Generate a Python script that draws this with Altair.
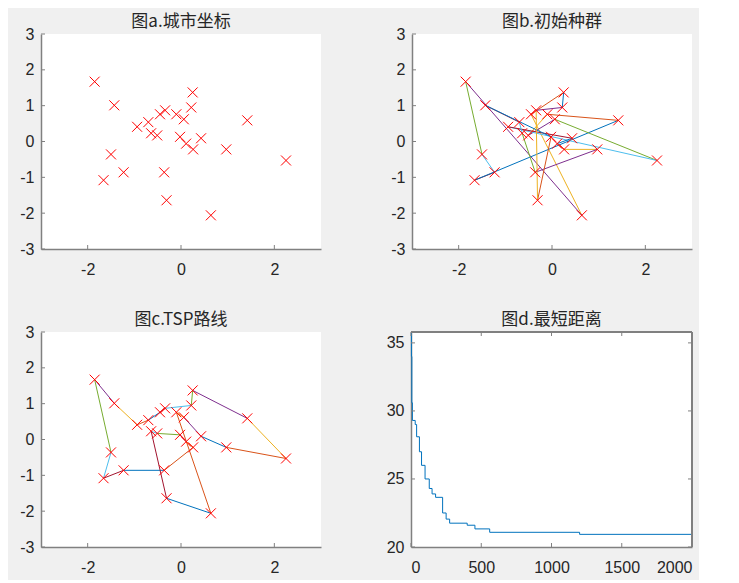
import altair as alt
import pandas as pd

# ---- data ----
city_x = [-1.85, -1.43, 0.25, 0.22, -0.34, -0.45, -0.10, 0.06, 1.42, -0.70,
          -0.94, -0.64, -0.51, -0.02, 0.43, 0.11, 0.26, 0.97, 2.25, -1.50,
          -1.23, -0.36, -1.66, -0.31, 0.64]
city_y = [1.67, 1.01, 1.37, 0.95, 0.87, 0.76, 0.76, 0.62, 0.59, 0.54,
          0.41, 0.23, 0.17, 0.13, 0.09, -0.06, -0.22, -0.22, -0.53, -0.36,
          -0.86, -0.86, -1.08, -1.64, -2.06]
init_route = [4, 3, 6, 25, 1, 20, 21, 23, 9, 7, 13, 8, 19, 11, 15, 16, 17, 18,
              22, 12, 10, 2, 14, 24, 5]
best_route = [15, 18, 19, 9, 3, 4, 5, 6, 10, 11, 2, 1, 20, 23, 21, 22, 17, 16,
              14, 13, 12, 24, 25, 7, 8]
iter_steps = [0, 3, 6, 10, 30, 40, 60, 75, 100, 130, 150, 175, 225, 250, 275,
              400, 455, 560, 1200, 2000]
best_dist = [35.8, 34.0, 30.6, 29.3, 29.0, 28.1, 27.0, 26.0, 25.0, 24.3, 23.9,
             23.65, 22.5, 22.05, 21.75, 21.6, 21.33, 21.08, 20.93, 20.93]
titles = ["图a.城市坐标", "图b.初始种群", "图c.TSP路线", "图d.最短距离"]
xy_xticks = [-2, 0, 2]
xy_yticks = [-3, -2, -1, 0, 1, 2, 3]
d_xticks = [0, 500, 1000, 1500, 2000]
d_yticks = [20, 25, 30, 35]
seg_colors = ["#0072BD", "#D95319", "#EDB120", "#7E2F8E", "#77AC30", "#4DBEEE", "#A2142F"]

AXC = "#808080"
TXT = "#262626"
W, H = 280, 215

cities = pd.DataFrame({"x": city_x, "y": city_y})


def seg_df(route):
    rows = []
    n = len(route)
    for i in range(n):
        a = route[i] - 1
        b = route[(i + 1) % n] - 1
        for k, c in enumerate((a, b)):
            rows.append(dict(seg=i, k=k, col=i % 7, x=city_x[c], y=city_y[c]))
    return pd.DataFrame(rows)


def title_layer(t, w):
    return alt.Chart(pd.DataFrame({"t": [t]})).mark_text(
        font="Noto Sans CJK SC", fontSize=17, color=TXT, baseline="middle",
        align="center").encode(text="t:N", x=alt.value(w / 2), y=alt.value(-12))


def xax(vals):
    return alt.Axis(values=vals, title=None, grid=False, ticks=False, labelPadding=12,
                    minExtent=26, maxExtent=26, domainColor=AXC, domainWidth=1.5,
                    labelColor=TXT, labelFont="Liberation Sans", labelFontSize=16,
                    labelExpr="'' + datum.value")


def yax(vals):
    return alt.Axis(values=vals, title=None, grid=False, ticks=False, labelPadding=7,
                    minExtent=33, maxExtent=33, domainColor=AXC, domainWidth=1.5,
                    labelColor=TXT, labelFont="Liberation Sans", labelFontSize=16,
                    labelExpr="'' + datum.value")


def tick_layers(xvals, yvals, xs, ys, w, box=False):
    dx = pd.DataFrame({"x": xvals})
    dy = pd.DataFrame({"y": yvals})
    X = alt.X("x:Q", scale=xs, axis=xax(xvals))
    Y = alt.Y("y:Q", scale=ys, axis=yax(yvals))
    layers = [
        alt.Chart(dx).mark_rule(color=AXC, strokeWidth=1).encode(
            x=X, y=alt.value(H), y2=alt.value(H - 4)),
        alt.Chart(dy).mark_rule(color=AXC, strokeWidth=1).encode(
            y=Y, x=alt.value(0), x2=alt.value(4)),
    ]
    if box:
        layers += [
            alt.Chart(dx).mark_rule(color=AXC, strokeWidth=1).encode(
                x=X, y=alt.value(0), y2=alt.value(4)),
            alt.Chart(dy).mark_rule(color=AXC, strokeWidth=1).encode(
                y=Y, x=alt.value(w), x2=alt.value(w - 4)),
            alt.Chart(dx).mark_rule(color=AXC, strokeWidth=1.5).encode(
                x=alt.value(0), x2=alt.value(w), y=alt.value(0)),
            alt.Chart(dx).mark_rule(color=AXC, strokeWidth=1.5).encode(
                x=alt.value(w), y=alt.value(0), y2=alt.value(H)),
        ]
    return layers


xs = alt.Scale(domain=[-3, 3], nice=False, zero=False)
ys = alt.Scale(domain=[-3, 3], nice=False, zero=False)


def points():
    return alt.Chart(cities).mark_point(
        shape="M-1,-1L1,1M-1,1L1,-1", filled=False, color="#FF0000", size=100,
        strokeWidth=1, opacity=1).encode(
        x=alt.X("x:Q", scale=xs, axis=xax(xy_xticks)),
        y=alt.Y("y:Q", scale=ys, axis=yax(xy_yticks)))


def route_lines(route):
    return alt.Chart(seg_df(route)).mark_line(strokeWidth=1).encode(
        x=alt.X("x:Q", scale=xs, axis=xax(xy_xticks)),
        y=alt.Y("y:Q", scale=ys, axis=yax(xy_yticks)),
        detail="seg:N",
        order="k:Q",
        color=alt.Color("col:N", scale=alt.Scale(domain=list(range(7)), range=seg_colors),
                        legend=None))


pa = alt.layer(points(), *tick_layers(xy_xticks, xy_yticks, xs, ys, W),
               title_layer(titles[0], W)).properties(width=W, height=H)
pb = alt.layer(route_lines(init_route), points(), *tick_layers(xy_xticks, xy_yticks, xs, ys, W),
               title_layer(titles[1], W)).properties(width=W, height=H)
pc = alt.layer(route_lines(best_route), points(), *tick_layers(xy_xticks, xy_yticks, xs, ys, W),
               title_layer(titles[2], W)).properties(width=W, height=H)

WD = W + 1
dxs = alt.Scale(domain=[0, 2000], nice=False, zero=False)
dys = alt.Scale(domain=[20, 35.8], nice=False, zero=False)
conv = pd.DataFrame({"x": iter_steps, "y": best_dist})
dline = alt.Chart(conv).mark_line(interpolate="step-after", color="#0072BD", strokeWidth=1).encode(
    x=alt.X("x:Q", scale=dxs, axis=xax(d_xticks)),
    y=alt.Y("y:Q", scale=dys, axis=yax(d_yticks)))
pd_ = alt.layer(dline, *tick_layers(d_xticks, d_yticks, dxs, dys, WD, box=True),
                title_layer(titles[3], WD)).properties(width=WD, height=H)

row1 = alt.hconcat(pa, pb, spacing=58)
row2 = alt.hconcat(pc, pd_, spacing=57)
chart = alt.vconcat(row1, row2, spacing=34).properties(
    background="#f0f0f0", padding={"left": 0, "top": 5, "right": 5, "bottom": 5}
).configure_view(fill="white", strokeWidth=0)

chart.save("out.html", embed_options={"renderer": "svg", "actions": False})
